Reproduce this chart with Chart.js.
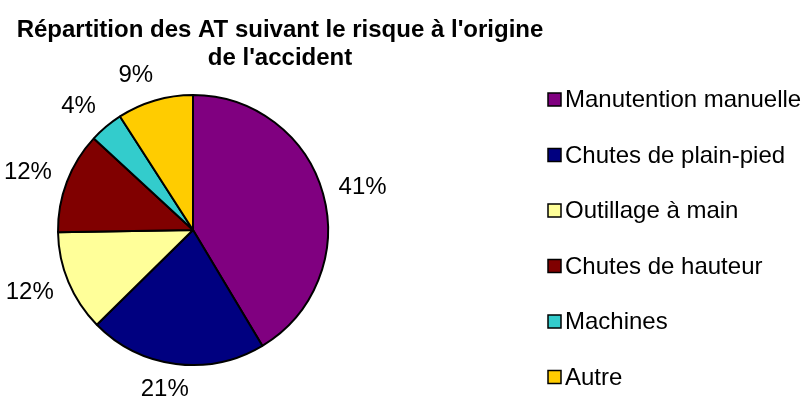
<!DOCTYPE html>
<html lang="fr">
<head>
<meta charset="utf-8">
<title>Répartition des AT</title>
<script src="https://cdn.jsdelivr.net/npm/chart.js@4"></script>
<style>
    html, body { margin: 0; padding: 0; background: #ffffff; }
    #chartBox { width: 804px; height: 400px; }
</style>
</head>
<body>
<div id="chartBox"><canvas id="riskChart" width="804" height="400"></canvas></div>
<script>
const riskLabels = ['Manutention manuelle', 'Chutes de plain-pied', 'Outillage à main', 'Chutes de hauteur', 'Machines', 'Autre'];
const riskShares = [41, 21, 12, 12, 4, 9];
const riskColors = ['#800080', '#000080', '#FFFF99', '#800000', '#33CCCC', '#FFCC00'];
const titleLines = ["Répartition des AT suivant le risque à l'origine", "de l'accident"];

const FONT = '"Liberation Sans", Arial, sans-serif';

// percentage labels just outside each slice, like the Excel original
const outsideLabels = {
    id: 'outsideLabels',
    afterDatasetsDraw(chart) {
        const ctx = chart.ctx;
        const arcs = chart.getDatasetMeta(0).data;
        const total = riskShares.reduce((a, b) => a + b, 0);
        ctx.save();
        ctx.font = '24px ' + FONT;
        ctx.fillStyle = '#000000';
        ctx.textAlign = 'center';
        ctx.textBaseline = 'middle';
        arcs.forEach((arc, i) => {
            const mid = (arc.startAngle + arc.endAngle) / 2;
            const dx = Math.cos(mid);
            const dy = Math.sin(mid);
            const text = Math.round(riskShares[i] / total * 100) + '%';
            const w = ctx.measureText(text).width;
            const dist = arc.outerRadius + 16;
            const shiftX = Math.max(-1, Math.min(1, dx * 3)) * w / 2;
            const x = arc.x + dx * dist + shiftX;
            const y = arc.y + dy * dist + dy * 10;
            ctx.fillText(text, x, y);
        });
        ctx.restore();
    }
};

// title and legend drawn by hand to keep the Excel layout
const excelFrame = {
    id: 'excelFrame',
    afterDraw(chart) {
        const ctx = chart.ctx;
        ctx.save();
        ctx.fillStyle = '#000000';
        ctx.font = 'bold 24px ' + FONT;
        ctx.textAlign = 'center';
        ctx.textBaseline = 'alphabetic';
        titleLines.forEach((line, i) => ctx.fillText(line, 280, 37 + i * 28));

        ctx.font = '24px ' + FONT;
        ctx.textAlign = 'left';
        ctx.textBaseline = 'middle';
        riskLabels.forEach((label, i) => {
            const y = 99.5 + i * 55.5;
            ctx.fillStyle = riskColors[i];
            ctx.fillRect(548, y - 6.5, 13, 13);
            ctx.strokeStyle = '#000000';
            ctx.lineWidth = 1.5;
            ctx.strokeRect(548, y - 6.5, 13, 13);
            ctx.fillStyle = '#000000';
            ctx.fillText(label, 565, y + 1);
        });
        ctx.restore();
    }
};

document.addEventListener('DOMContentLoaded', function() {
    const ctx = document.getElementById('riskChart').getContext('2d');

    window.pieChart = new Chart(ctx, {
        type: 'pie',
        data: {
            labels: riskLabels,
            datasets: [{
                data: riskShares,
                backgroundColor: riskColors,
                borderColor: '#000000',
                borderWidth: 2,
                radius: 135
            }]
        },
        options: {
            responsive: false,
            animation: false,
            layout: {
                padding: { left: 58, right: 476, top: 95, bottom: 35 }
            },
            plugins: {
                legend: { display: false },
                title: { display: false },
                tooltip: { enabled: false }
            }
        },
        plugins: [outsideLabels, excelFrame]
    });
});
</script>
</body>
</html>
